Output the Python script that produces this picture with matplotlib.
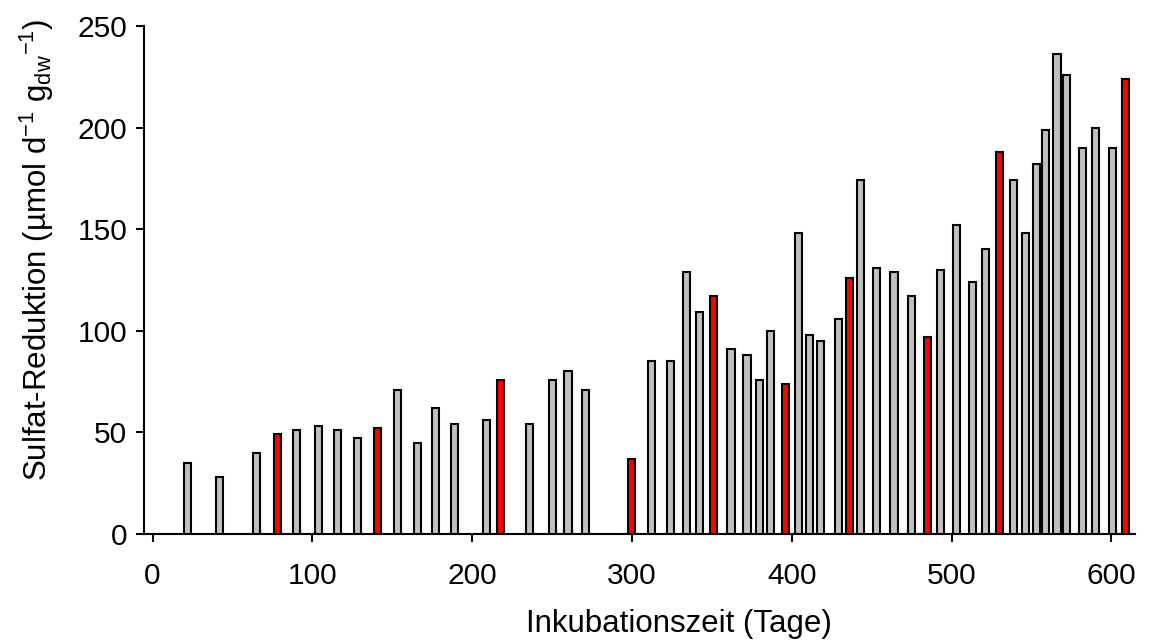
import matplotlib
matplotlib.use("Agg")
import matplotlib.pyplot as plt

# Sulfate reduction rates over the incubation period
days = [22, 42, 65, 78, 90, 104, 116, 128, 141, 153, 166, 177, 189, 209, 218,
        236, 250, 260, 271, 300, 312, 324, 334, 342, 351, 362, 372, 380, 387,
        396, 404, 411, 418, 429, 436, 443, 453, 464, 475, 485, 493, 503, 513,
        521, 530, 539, 546, 553, 559, 566, 572, 582, 590, 601, 609]
rates = [35, 28, 40, 49, 51, 53, 51, 47, 52, 71, 45, 62, 54, 56, 76,
         54, 76, 80, 71, 37, 85, 85, 129, 109, 117, 91, 88, 76, 100,
         74, 148, 98, 95, 106, 126, 174, 131, 129, 117, 97, 130, 152, 124,
         140, 188, 174, 148, 182, 199, 236, 226, 190, 200, 190, 224]
highlight_days = [78, 141, 218, 300, 351, 396, 436, 485, 530, 609]

x_ticks = [0, 100, 200, 300, 400, 500, 600]
y_ticks = [0, 50, 100, 150, 200, 250]

plt.rcParams["font.family"] = ["Liberation Sans", "DejaVu Sans"]
plt.rcParams["mathtext.fontset"] = "custom"
plt.rcParams["mathtext.rm"] = "Liberation Sans"
plt.rcParams["mathtext.it"] = "Liberation Sans"

fig = plt.figure(figsize=(11.58, 6.44), dpi=100)
ax = fig.add_axes([0.1244, 0.1708, 0.856, 0.789])

colors = ["#ff0000" if d in highlight_days else "#c0c0c0" for d in days]
ax.bar(days, rates, width=4.4, color=colors, edgecolor="black",
       linewidth=1.5, align="center", zorder=3)

ax.set_xlim(-5.3, 615)
ax.set_ylim(0, 250)
ax.set_xticks(x_ticks)
ax.set_yticks(y_ticks)

for side in ("top", "right"):
    ax.spines[side].set_visible(False)
for side in ("left", "bottom"):
    ax.spines[side].set_linewidth(1.5)
    ax.spines[side].set_color("black")

ax.tick_params(axis="both", direction="out", length=6, width=1.5,
               labelsize=21.5, colors="black")
ax.tick_params(axis="x", pad=14)
ax.tick_params(axis="y", pad=6)

fig.text(0.586, 0.008, "Inkubationszeit (Tage)", ha="center", va="bottom",
         fontsize=22.5)
fig.text(0.032, 0.612,
         r"Sulfat-Reduktion (µmol d$^{-1}$ g$_{dw}$$^{-1}$)",
         rotation=90, ha="center", va="center", fontsize=22.5)

fig.savefig("out.png", dpi=100, facecolor="white")
